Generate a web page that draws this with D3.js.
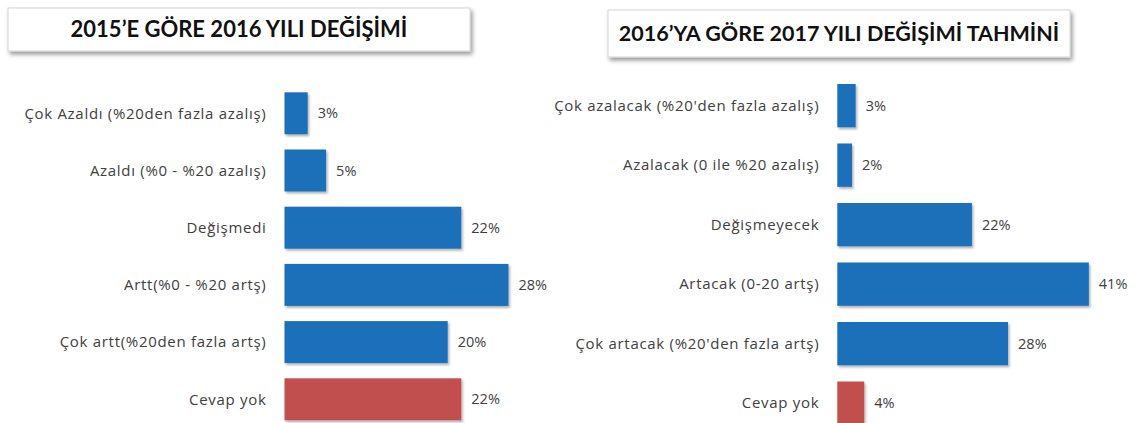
<!DOCTYPE html>
<html>
<head>
<meta charset="utf-8">
<script src="https://cdnjs.cloudflare.com/ajax/libs/d3/7.8.5/d3.min.js"></script>
<style>
  body { margin: 0; background: #fff; }
  svg { display: block; font-family: Lato, "Open Sans", sans-serif; }
  .catLabel { font-family: "Open Sans", sans-serif; font-size: 15px; letter-spacing: 0.7px; fill: #404040; }
  .valLabel { font-family: "Open Sans", sans-serif; font-size: 14.5px; fill: #404040; }
  .titleText { font-size: 22px; font-weight: bold; fill: #111; }
</style>
</head>
<body>
<div id="chart"></div>
<script>
// left panel: 2015 -> 2016
var leftTitle = "2015\u2019E GÖRE 2016 YILI DEĞİŞİMİ";
var leftCategories = ["Çok Azaldı (%20den fazla azalış)", "Azaldı (%0 - %20 azalış)", "Değişmedi",
                      "Artt(%0 - %20 artş)", "Çok artt(%20den fazla artş)", "Cevap yok"];
var leftValues = [2.9, 5.2, 22.1, 28.0, 20.4, 22.1];

// right panel: 2016 -> 2017 forecast
var rightTitle = "2016\u2019YA GÖRE 2017 YILI DEĞİŞİMİ TAHMİNİ";
var rightCategories = ["Çok azalacak (%20'den fazla azalış)", "Azalacak (0 ile %20 azalış)", "Değişmeyecek",
                       "Artacak (0-20 artş)", "Çok artacak (%20'den fazla artş)", "Cevap yok"];
var rightValues = [3.0, 2.4, 22.0, 41.1, 27.9, 4.4];

var BLUE = "#1b6fba", RED = "#c0504d";

var svg = d3.select("#chart").append("svg")
    .attr("width", 1138)
    .attr("height", 423);

var defs = svg.append("defs");
defs.append("filter").attr("id", "barShadow")
    .attr("x", "-10%").attr("y", "-10%").attr("width", "130%").attr("height", "130%")
    .append("feDropShadow")
    .attr("dx", 1.5).attr("dy", 2).attr("stdDeviation", 1.2)
    .attr("flood-color", "#000").attr("flood-opacity", 0.3);
defs.append("filter").attr("id", "boxShadow")
    .attr("x", "-5%").attr("y", "-20%").attr("width", "110%").attr("height", "150%")
    .append("feDropShadow")
    .attr("dx", 2).attr("dy", 3).attr("stdDeviation", 2)
    .attr("flood-color", "#000").attr("flood-opacity", 0.4);

/**
 * One horizontal bar panel with its title box
 */
function BarPanel(opts){
    var self = this;
    self.opts = opts;
    self.g = svg.append("g");
}

BarPanel.prototype.draw = function(){
    var self = this, o = self.opts;

    // title box
    self.g.append("rect")
        .attr("x", o.box[0]).attr("y", o.box[1])
        .attr("width", o.box[2]).attr("height", o.box[3])
        .attr("fill", "#fff")
        .attr("stroke", "#d4d4d4")
        .attr("filter", "url(#boxShadow)");
    self.g.append("text")
        .attr("class", "titleText")
        .attr("x", o.box[0] + o.box[2] / 2)
        .attr("y", o.box[1] + o.box[3] / 2)
        .attr("text-anchor", "middle")
        .attr("dy", "0.36em")
        .style("font-size", o.titleSize + "px")
        .text(o.title);

    var xScale = d3.scaleLinear().domain(o.xDomain).range(o.xRange);
    var yScale = d3.scaleBand()
        .domain(o.categories)
        .range(o.yRange)
        .paddingInner(o.padIn)
        .paddingOuter(o.padIn / 2);

    var rows = o.categories.map(function(c, i){
        return {cat: c, value: o.values[i], last: i == o.categories.length - 1};
    });

    self.g.selectAll("rect.bar")
        .data(rows)
        .enter()
        .append("rect")
        .attr("class", "bar")
        .attr("x", xScale(0))
        .attr("y", function(d){ return yScale(d.cat); })
        .attr("width", function(d){ return xScale(d.value) - xScale(0); })
        .attr("height", yScale.bandwidth())
        .attr("fill", function(d){ return d.last ? RED : BLUE; })
        .attr("filter", "url(#barShadow)");

    self.g.selectAll("text.catLabel")
        .data(rows)
        .enter()
        .append("text")
        .attr("class", "catLabel")
        .attr("x", xScale(0) - 18)
        .attr("y", function(d){ return yScale(d.cat) + yScale.bandwidth() / 2; })
        .attr("dy", "0.35em")
        .attr("text-anchor", "end")
        .text(function(d){ return d.cat; });

    self.g.selectAll("text.valLabel")
        .data(rows)
        .enter()
        .append("text")
        .attr("class", "valLabel")
        .attr("x", function(d){ return xScale(d.value) + 10; })
        .attr("y", function(d){ return yScale(d.cat) + yScale.bandwidth() / 2; })
        .attr("dy", "0.35em")
        .text(function(d){ return Math.round(d.value) + "%"; });
};

new BarPanel({
    title: leftTitle, categories: leftCategories, values: leftValues,
    box: [8, 8, 462, 43], titleSize: 22,
    xDomain: [0, 30], xRange: [284.5, 524.5],
    yRange: [84.7, 427.9], padIn: 0.266
}).draw();

new BarPanel({
    title: rightTitle, categories: rightCategories, values: rightValues,
    box: [608, 10, 462, 47], titleSize: 21.5,
    xDomain: [0, 45], xRange: [837.3, 1112.7],
    yRange: [75.9, 432.9], padIn: 0.272
}).draw();
</script>
</body>
</html>
